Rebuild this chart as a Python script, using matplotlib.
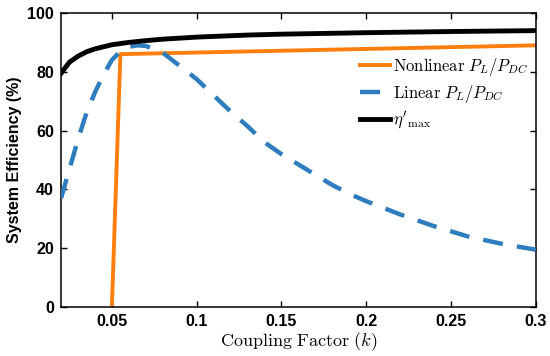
import numpy as np
import matplotlib.pyplot as plt

plt.rcParams['mathtext.fontset'] = 'cm'
plt.rcParams['font.family'] = ['Liberation Sans', 'DejaVu Sans']

# Datos
k_eta = [0.02, 0.025, 0.03, 0.035, 0.04, 0.05, 0.06, 0.07, 0.08, 0.1, 0.13, 0.15, 0.2, 0.25, 0.3]
eta_max = [79.5, 83.3, 85.3, 86.8, 87.8, 89.2, 90.0, 90.6, 91.1, 91.8, 92.5, 92.8, 93.3, 93.7, 94.0]

k_nl = [0.05, 0.055, 0.3]
eff_nl = [0, 86, 89]

k_lin = [0.02, 0.025, 0.03, 0.035, 0.04, 0.045, 0.05, 0.055, 0.06, 0.065, 0.07, 0.08, 0.09,
         0.1, 0.11, 0.12, 0.13, 0.14, 0.15, 0.16, 0.17, 0.18, 0.19, 0.2, 0.22, 0.24, 0.26, 0.28, 0.3]
eff_lin = [37, 47, 57, 66, 73, 79, 84, 87, 88.5, 89, 88.8, 86.5, 82, 77.5, 72, 66.5, 61.5, 56,
           52, 48.5, 45, 41.5, 38.5, 36, 31.5, 27.5, 24, 21.5, 19.5]

fig, ax = plt.subplots(figsize=(5.5, 3.56), dpi=100)
fig.subplots_adjust(left=0.111, right=0.974, top=0.9635, bottom=0.1376)

ax.plot(k_nl, eff_nl, color='#ff7f0e', linewidth=2.8, label=r'$\mathrm{Nonlinear}\ P_L/P_{DC}$', zorder=2)
ax.plot(k_lin, eff_lin, color='#2e7ebf', linewidth=3.2, dashes=(4.5, 3.2),
        label=r'$\mathrm{Linear}\ P_L/P_{DC}$', zorder=3)
ax.plot(k_eta, eta_max, color='black', linewidth=3.5, label=r"$\eta'_{\max}$", zorder=4)

ax.set_xlim(0.02, 0.3)
ax.set_ylim(0, 100)
ax.set_xticks([0.05, 0.1, 0.15, 0.2, 0.25, 0.3])
ax.set_xticklabels(['0.05', '0.1', '0.15', '0.2', '0.25', '0.3'])
ax.set_yticks([0, 20, 40, 60, 80, 100])
ax.tick_params(direction='in', top=True, right=True, labelsize=11.5, width=1, length=4, pad=5)
for lab in ax.get_xticklabels() + ax.get_yticklabels():
    lab.set_fontweight('bold')
for s in ax.spines.values():
    s.set_linewidth(1.1)

ax.set_xlabel(r'$\mathrm{Coupling\ Factor\ }(k)$', fontsize=13, labelpad=1)
ax.set_ylabel('System Efficiency (%)', fontsize=11.5, fontweight='bold', labelpad=4)

ax.legend(loc='upper left', bbox_to_anchor=(0.63, 0.855), frameon=False, fontsize=12,
          handlelength=1.8, handletextpad=0.2, labelspacing=0.3, borderaxespad=0,
          borderpad=0)

fig.savefig('out.png', dpi=100)
